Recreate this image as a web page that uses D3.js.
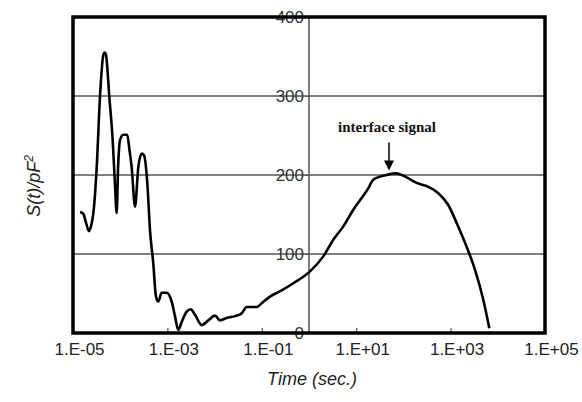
<!DOCTYPE html>
<html>
<head>
<meta charset="utf-8">
<script src="https://cdn.jsdelivr.net/npm/d3@7"></script>
<style>
  html, body { margin: 0; padding: 0; background: #fff; }
  svg { display: block; }
</style>
</head>
<body>
<svg id="chart" width="582" height="402"></svg>
<script>
// Time (s) and S(t)/pF^2 samples of the transient spectrum
const timeSec = [
  1.41e-5, 1.65e-5, 1.88e-5, 2.18e-5, 2.47e-5, 2.69e-5, 3.18e-5, 3.73e-5, 4.39e-5, 4.70e-5,
  5.00e-5, 5.88e-5, 6.93e-5, 7.76e-5, 8.43e-5, 8.98e-5, 9.91e-5, 1.16e-4, 1.41e-4, 1.57e-4,
  1.75e-4, 2.06e-4, 2.42e-4, 2.85e-4, 3.19e-4, 3.75e-4, 4.28e-4, 5.02e-4, 5.73e-4, 6.41e-4,
  7.57e-4, 9.66e-4, 1.23e-3, 1.45e-3, 1.70e-3, 2.01e-3, 2.56e-3, 3.12e-3, 3.85e-3, 5.33e-3,
  7.36e-3, 1.02e-2, 1.30e-2, 1.80e-2, 2.94e-2, 3.75e-2, 4.79e-2, 5.62e-2, 7.80e-2, 0.101,
  0.149, 0.264, 0.465, 1.05, 2.01, 3.27, 5.33, 8.69, 18.0, 23.0,
  44.3, 69.7, 117, 191, 337, 549, 894, 1350, 2190, 3290,
  4930, 6610
];
const signal = [
  153, 151, 140, 129, 138, 151, 210, 299, 352, 355,
  352, 299, 244, 187, 152, 206, 244, 251, 251, 232,
  210, 160, 210, 227, 225, 190, 130, 88, 46, 40,
  51, 51, 40, 21, 4, 14, 27, 30, 23, 10,
  16, 22, 16, 19, 22, 25, 33, 33, 33, 38,
  46, 54, 63, 78, 97, 118, 135, 156, 183, 194,
  200, 202, 197, 190, 185, 177, 162, 139, 109, 80,
  42, 6
];

const xTicks = [1e-5, 1e-3, 1e-1, 1e1, 1e3, 1e5];
const xTickLabels = ["1.E-05", "1.E-03", "1.E-01", "1.E+01", "1.E+03", "1.E+05"];
const yTicks = [0, 100, 200, 300, 400];
const annotationText = "interface signal";
const annotationTime = 69.7;
const annotationValue = 202;

const svg = d3.select("#chart");
const plotLeft = 73, plotRight = 545, plotTop = 17, plotBottom = 333;

const x = d3.scaleLog().domain([1e-5, 1e5]).range([plotLeft, plotRight]);
const y = d3.scaleLinear().domain([0, 400]).range([plotBottom, plotTop]);

// horizontal gridlines
svg.append("g")
  .selectAll("line")
  .data(yTicks.filter(v => v > 0 && v < 400))
  .join("line")
  .attr("x1", plotLeft).attr("x2", plotRight)
  .attr("y1", d => y(d)).attr("y2", d => y(d))
  .attr("stroke", "#555").attr("stroke-width", 1.5);

// vertical axis crossing at t = 1 s
svg.append("line")
  .attr("x1", x(1)).attr("x2", x(1))
  .attr("y1", plotTop).attr("y2", plotBottom)
  .attr("stroke", "#555").attr("stroke-width", 1.5);

// bottom axis ticks (inside) and labels
const xAxis = d3.axisBottom(x)
  .tickValues(xTicks)
  .tickSize(-5)
  .tickFormat((d, i) => xTickLabels[i]);
const gx = svg.append("g").attr("transform", `translate(0,${plotBottom})`).call(xAxis);
gx.select(".domain").remove();
gx.selectAll(".tick line").attr("stroke", "#555").attr("stroke-width", 1.2);
gx.selectAll(".tick text")
  .attr("y", 10).attr("dy", "0.71em").attr("dx", 6)
  .attr("fill", "#222")
  .style("font-family", "'Liberation Sans', Arial, sans-serif")
  .style("font-size", "17px");

// value labels beside the crossing axis
const yAxis = d3.axisLeft(y).tickValues(yTicks).tickSize(4).tickFormat(d3.format("d"));
const gy = svg.append("g").attr("transform", `translate(${x(1)},0)`).call(yAxis);
gy.select(".domain").remove();
gy.selectAll(".tick line").attr("stroke", "#555");
gy.selectAll(".tick text")
  .attr("x", -5)
  .attr("fill", "#333")
  .style("font-family", "'Liberation Sans', Arial, sans-serif")
  .style("font-size", "17px");

// data curve
const pts = timeSec.map((t, i) => [t, signal[i]]);
svg.append("path")
  .datum(pts)
  .attr("fill", "none")
  .attr("stroke", "#000")
  .attr("stroke-width", 2.6)
  .attr("stroke-linejoin", "round")
  .attr("d", d3.line().x(d => x(d[0])).y(d => y(d[1])).curve(d3.curveMonotoneX));

// plot frame
svg.append("rect")
  .attr("x", plotLeft).attr("y", plotTop)
  .attr("width", plotRight - plotLeft).attr("height", plotBottom - plotTop)
  .attr("fill", "none").attr("stroke", "#000").attr("stroke-width", 3.5);

// annotation with arrow
const ax = x(annotationTime) - 7;
const ay = y(annotationValue);
svg.append("text")
  .attr("x", ax - 2).attr("y", ay - 41)
  .attr("text-anchor", "middle")
  .attr("fill", "#111")
  .style("font-family", "'Liberation Serif', 'Times New Roman', serif")
  .style("font-weight", "bold")
  .style("font-size", "15px")
  .text(annotationText);
svg.append("line")
  .attr("x1", ax).attr("x2", ax)
  .attr("y1", ay - 31).attr("y2", ay - 12)
  .attr("stroke", "#000").attr("stroke-width", 1.5);
svg.append("path")
  .attr("d", `M${ax - 5},${ay - 13} L${ax + 5},${ay - 13} L${ax},${ay - 3} Z`)
  .attr("fill", "#000");

// axis titles
svg.append("text")
  .attr("x", 312).attr("y", 385)
  .attr("text-anchor", "middle")
  .attr("fill", "#222")
  .style("font-family", "'Liberation Sans', Arial, sans-serif")
  .style("font-style", "italic")
  .style("font-size", "18px")
  .text("Time (sec.)");

const yt = svg.append("text")
  .attr("transform", "translate(40,186) rotate(-90)")
  .attr("text-anchor", "middle")
  .attr("fill", "#222")
  .style("font-family", "'Liberation Sans', Arial, sans-serif")
  .style("font-style", "italic")
  .style("font-size", "18px");
yt.append("tspan").text("S(t)/pF");
yt.append("tspan").attr("dy", -7).style("font-size", "12px").text("2");
</script>
</body>
</html>
